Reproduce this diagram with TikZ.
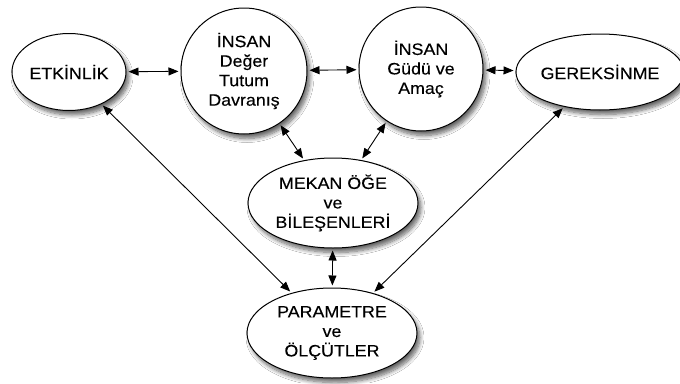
\documentclass[tikz,border=0pt]{standalone}
\usepackage{fontspec}
\setmainfont[FakeStretch=1.08,FakeBold=0.2]{Liberation Sans}
\usetikzlibrary{arrows.meta,shapes.geometric,shadows.blur}
\tikzset{
  bubble/.style={draw=black, line width=1pt, fill=white, align=center,
    inner sep=0pt, font=\fontsize{16.5}{19.5}\selectfont,
    blur shadow={shadow xshift=3pt, shadow yshift=-4.5pt, shadow blur steps=8, shadow blur radius=4pt, shadow opacity=60}},
  oval/.style={bubble, ellipse},
  ring/.style={bubble, circle},
  link/.style={line width=0.9pt, {Triangle[length=10pt,width=8pt]}-{Triangle[length=10pt,width=8pt]}, shorten <=2pt, shorten >=2pt}
}
\begin{document}
\begin{tikzpicture}[x=1pt,y=-1pt]
\useasboundingbox[fill=white] (0,0) rectangle (680,383);
\node[oval, minimum width=114pt, minimum height=77pt] (etk) at (69,72) {ETK\.{I}NL\.{I}K};
\node[ring, minimum size=126pt] (ins1) at (244,71) {\.{I}NSAN\\Değer\\Tutum\\Davranış};
\node[ring, minimum size=124pt] (ins2) at (421,69) {\.{I}NSAN\\Güdü ve\\Amaç};
\node[oval, minimum width=156pt, minimum height=76pt] (ger) at (600,72) {GEREKS\.{I}NME};
\node[oval, minimum width=170pt, minimum height=90pt] (mek) at (333,203) {MEKAN ÖĞE\\ve\\B\.{I}LEŞENLER\.{I}};
\node[oval, minimum width=170pt, minimum height=90pt] (par) at (332,333) {PARAMETRE\\ve\\ÖLÇÜTLER};
\draw[link] (etk) -- (ins1);
\draw[link] (ins1) -- (ins2);
\draw[link] (ins2) -- (ger);
\draw[link] (ins1) -- (mek);
\draw[link] (ins2) -- (mek);
\draw[link] (mek) -- (par);
\draw[link] (etk) -- (par);
\draw[link] (ger) -- (par);
\end{tikzpicture}
\end{document}
